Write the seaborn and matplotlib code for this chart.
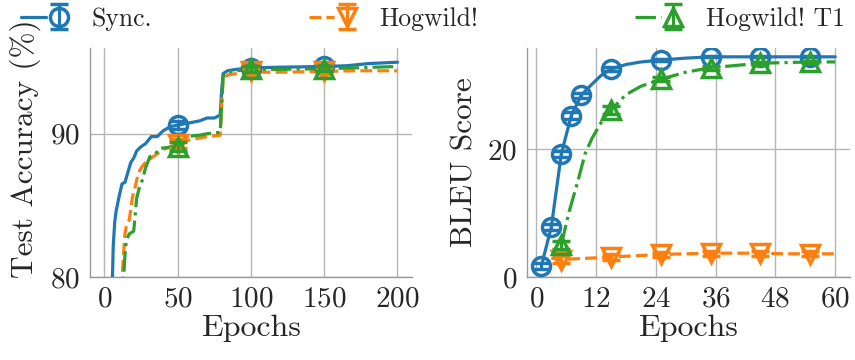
import numpy as np
import pandas as pd
import seaborn as sns
import matplotlib
matplotlib.use("Agg")
import matplotlib.pyplot as plt
from matplotlib.legend_handler import HandlerTuple

# ---------------- data ----------------
series_names = ["Sync.", "Hogwild!", "Hogwild! T1"]
colors = ["#1f77b4", "#ff7f0e", "#2ca02c"]

# Left: test accuracy vs epochs
acc_sync_ep = [5, 6, 7, 8, 10, 12, 14, 16, 18, 20, 22, 25, 28, 32, 36, 40, 45, 50, 55, 60, 65, 70, 75, 79, 80, 81, 84, 90, 100, 120, 150, 165, 180, 200]
acc_sync = [78.0, 82.1, 83.8, 84.6, 85.6, 86.5, 86.6, 87.3, 88.0, 88.3, 88.8, 89.1, 89.3, 89.8, 89.8, 90.2, 90.5, 90.6, 90.7, 90.8, 90.9, 91.1, 91.1, 91.3, 93.0, 94.2, 94.4, 94.5, 94.6, 94.65, 94.7, 94.75, 94.9, 95.0]
acc_hog_ep = [11, 13, 14, 15, 17, 19, 21, 23, 25, 28, 32, 36, 40, 45, 50, 55, 60, 65, 70, 75, 79, 80, 81, 84, 90, 100, 120, 150, 170, 200]
acc_hog = [78.0, 81.5, 83.0, 83.6, 84.0, 85.5, 86.3, 87.2, 87.6, 88.0, 88.3, 88.6, 88.9, 89.1, 89.3, 89.5, 89.6, 89.7, 89.8, 89.85, 89.9, 92.0, 93.8, 94.1, 94.2, 94.3, 94.3, 94.35, 94.4, 94.4]
acc_t1_ep = [12, 14, 15, 17, 20, 22, 24, 26, 28, 31, 34, 38, 40, 45, 50, 55, 60, 65, 70, 75, 79, 80, 81, 84, 90, 100, 120, 150, 170, 200]
acc_t1 = [78.0, 81.5, 82.6, 83.0, 83.2, 85.5, 86.3, 86.8, 87.6, 88.4, 88.5, 89.0, 89.0, 89.05, 89.1, 89.7, 89.85, 89.9, 90.0, 90.05, 90.1, 92.0, 94.0, 94.3, 94.4, 94.5, 94.5, 94.55, 94.6, 94.7]
# marker points (with error bars)
acc_mk_ep = [50, 100, 150]
acc_mk_sync = [90.6, 94.6, 94.7]
acc_mk_hog = [89.3, 94.35, 94.4]
acc_mk_t1 = [89.1, 94.5, 94.55]
acc_err_sync = [0.3, 0.2, 0.2]
acc_err_hog = [0.3, 0.2, 0.2]
acc_err_t1 = [0.3, 0.2, 0.2]

# Right: BLEU vs epochs
bleu_sync_ep = [1, 3, 5, 7, 9, 11, 13, 15, 18, 21, 25, 30, 35, 45, 55, 60]
bleu_sync = [1.7, 7.8, 19.2, 25.2, 28.4, 30.0, 31.5, 32.5, 33.2, 33.6, 33.9, 34.2, 34.4, 34.4, 34.4, 34.4]
bleu_hog_ep = [3, 5, 10, 15, 20, 25, 30, 35, 40, 45, 50, 55, 60]
bleu_hog = [2.9, 2.7, 2.9, 3.1, 3.3, 3.5, 3.6, 3.7, 3.7, 3.7, 3.6, 3.6, 3.6]
bleu_t1_ep = [5, 6.5, 8.2, 9.8, 11.2, 13.5, 15, 18, 21, 25, 30, 35, 45, 55, 60]
bleu_t1 = [5.0, 10.0, 14.6, 19.3, 21.7, 24.8, 26.1, 28.5, 29.8, 30.9, 32.0, 32.7, 33.4, 33.6, 33.6]
bleu_mk_sync_ep = [1, 3, 5, 7, 9, 15, 25, 35, 45, 55]
bleu_mk_sync = [1.7, 7.8, 19.2, 25.2, 28.4, 32.5, 33.9, 34.4, 34.4, 34.4]
bleu_err_sync = [0.5, 0.5, 0.5, 0.5, 0.4, 0.3, 0.2, 0.1, 0.1, 0.1]
bleu_mk_ep = [5, 15, 25, 35, 45, 55]
bleu_mk_hog = [2.7, 3.1, 3.5, 3.7, 3.7, 3.6]
bleu_err_hog = [0.5, 0.4, 0.4, 0.4, 0.4, 0.4]
bleu_mk_t1 = [5.0, 26.1, 30.9, 32.7, 33.4, 33.6]
bleu_err_t1 = [0.6, 0.6, 0.3, 0.3, 0.2, 0.2]

# ---------------- style ----------------
sns.set_theme(style="whitegrid")
plt.rcParams["font.family"] = ["cmr10", "DejaVu Serif"]
plt.rcParams["axes.formatter.use_mathtext"] = True
plt.rcParams["mathtext.fontset"] = "cm"
plt.rcParams["axes.unicode_minus"] = False

fig = plt.figure(figsize=(8.55, 3.6), dpi=100)
ax1 = fig.add_axes([0.105, 0.231, 0.377, 0.636])
ax2 = fig.add_axes([0.616, 0.231, 0.378, 0.636])

linestyles = ["-", "--", "-."]
markers = ["o", "v", "^"]
LW = 2.3
MS = 13
MEW = 2.5


def draw(ax, lines, marks):
    handles = []
    for i, ((ex, ey), (mx, my, me)) in enumerate(zip(lines, marks)):
        df = pd.DataFrame({"x": ex, "y": ey})
        sns.lineplot(data=df, x="x", y="y", ax=ax, color=colors[i],
                     linestyle=linestyles[i], linewidth=LW, zorder=3 + i)
        ln = ax.get_lines()[-1]
        eb = ax.errorbar(mx, my, yerr=me, fmt=markers[i], color=colors[i],
                         mfc="none", mec=colors[i], ms=MS, mew=MEW,
                         elinewidth=2.2, capsize=6.5, capthick=2.2, zorder=6 + i)
        handles.append((ln, eb))
    return handles


handles = draw(
    ax1,
    [(acc_sync_ep, acc_sync), (acc_hog_ep, acc_hog), (acc_t1_ep, acc_t1)],
    [(acc_mk_ep, acc_mk_sync, acc_err_sync), (acc_mk_ep, acc_mk_hog, acc_err_hog),
     (acc_mk_ep, acc_mk_t1, acc_err_t1)],
)
draw(
    ax2,
    [(bleu_sync_ep, bleu_sync), (bleu_hog_ep, bleu_hog), (bleu_t1_ep, bleu_t1)],
    [(bleu_mk_sync_ep, bleu_mk_sync, bleu_err_sync), (bleu_mk_ep, bleu_mk_hog, bleu_err_hog),
     (bleu_mk_ep, bleu_mk_t1, bleu_err_t1)],
)

ax1.set_xlim(-10, 210)
ax1.set_ylim(80, 96)
ax1.set_xticks([0, 50, 100, 150, 200])
ax1.set_yticks([80, 90])
ax1.set_ylabel("Test Accuracy (%)", fontsize=22.5)
ax1.yaxis.set_label_coords(-0.15, 0.56)

ax2.set_xlim(-1.95, 62.95)
ax2.set_ylim(0, 35.8)
ax2.set_xticks([0, 12, 24, 36, 48, 60])
ax2.set_yticks([0, 20])
ax2.set_ylabel("BLEU Score", fontsize=22.5, labelpad=6)

for ax in (ax1, ax2):
    ax.set_xlabel("Epochs", fontsize=23, labelpad=1)
    ax.tick_params(axis="both", labelsize=21, length=5, width=1, color="#999999", pad=2, direction="out")
    ax.grid(True, color="#b5b5b5", linewidth=1.0)
    sns.despine(ax=ax)
    for s in ("left", "bottom"):
        ax.spines[s].set_color("#999999")
        ax.spines[s].set_linewidth(1.0)

fig.legend(handles, series_names, loc="center left", ncol=3,
           bbox_to_anchor=(0.024, 0.948), frameon=False, borderpad=0,
           borderaxespad=0, fontsize=18.5, handlelength=2.0, handletextpad=0.75,
           columnspacing=6.1,
           handler_map={tuple: HandlerTuple(ndivide=None)})

fig.savefig("out.png", dpi=100)
